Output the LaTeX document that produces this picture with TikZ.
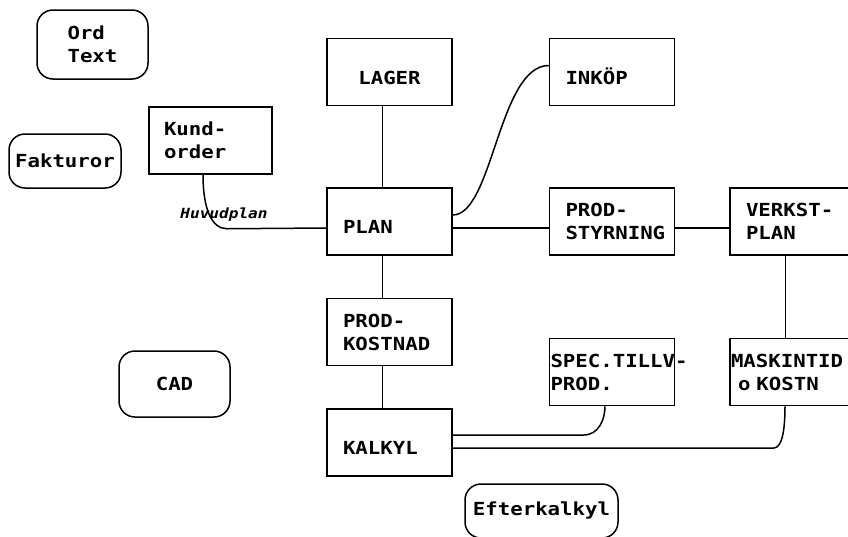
\documentclass[tikz,border=0pt]{standalone}
\usepackage{fontspec}
\newfontfamily\plotfont[FakeStretch=1.15]{DejaVu Sans Mono}
\usetikzlibrary{positioning}
\hfuzz=40pt
\tikzset{
  ruta/.style={draw,line width=1.5pt,minimum height=67pt,text width=93pt,inner xsep=16pt,inner ysep=0pt,
               align=left,font=\plotfont\bfseries\fontsize{18}{23}\selectfont},
  enrad/.style={ruta,text height=24pt,text depth=0pt},
  trang/.style={ruta,text width=123pt,inner xsep=1pt},
  rund/.style={draw,line width=1.5pt,rounded corners=16pt,inner sep=0pt,align=left,
               font=\plotfont\bfseries\fontsize{18}{23}\selectfont},
  linje/.style={line width=1.5pt},
  etikett/.style={font=\plotfont\bfseries\itshape\fontsize{14}{14}\selectfont,inner sep=0pt},
}
\begin{document}
\begin{tikzpicture}[x=1pt,y=-1pt]
  \useasboundingbox (0,0) rectangle (848,536);
  \clip (0,0) rectangle (848,536);
  % mittkolumnen
  \node[enrad] (plan) at (389.5,221.5) {PLAN};
  \node[enrad,align=center,above=81pt of plan] (lager) {LAGER};
  \node[ruta,below=42pt of plan] (prodkost) {PROD-\\KOSTNAD};
  \node[enrad,below=42pt of prodkost] (kalkyl) {KALKYL};
  % till hoger
  \node[ruta,right=96pt of plan] (prodstyr) {PROD-\\STYRNING};
  \node[ruta,right=54pt of prodstyr] (verkst) {VERKST-\\PLAN};
  \node[enrad,above=81pt of prodstyr] (inkop) {INKÖP};
  \node[trang,below=82pt of prodstyr] (spec) {\mbox{SPEC.TILLV-}\\PROD.};
  \node[trang,below=82pt of verkst] (mask) {MASKINTID\\\hspace*{7pt}o KOSTN};
  % till vanster
  \node[ruta,inner xsep=15pt] (kund) at (210.5,140.5) {Kund-\\order};
  \node[rund,minimum width=111pt,minimum height=69pt] (ordtext) at (92.5,44.5) {Ord\\Text};
  \node[rund,minimum width=112pt,minimum height=54pt] (faktura) at (65,161) {Fakturor};
  \node[rund,minimum width=111pt,minimum height=66pt] (cad) at (174.5,384) {CAD};
  \node[rund,minimum width=153pt,minimum height=54pt] (efter) at (541.5,511) {Efterkalkyl};
  \node[etikett] (huvudplan) at (224,215) {Huvudplan};

  \draw[linje] ([xshift=-7pt]lager.south) -- ([xshift=-7pt]plan.north);
  \draw[linje] ([xshift=-7pt]plan.south) -- ([xshift=-7pt]prodkost.north);
  \draw[linje] ([xshift=-7pt]prodkost.south) -- ([xshift=-7pt]kalkyl.north);
  \draw[linje] ([yshift=-6.5pt]plan.east) -- ([yshift=-6.5pt]prodstyr.west);
  \draw[linje] ([yshift=-6.5pt]prodstyr.east) -- ([yshift=-6.5pt]verkst.west);
  \draw[linje] ([xshift=-7pt]verkst.south) -- ([xshift=-7pt]mask.north);
  \draw[linje] ([yshift=6.5pt]plan.east) .. controls +(40,0) and +(-50,0) .. ([yshift=6.5pt]inkop.west);
  \draw[linje] ([xshift=-7.5pt]kund.south) .. controls +(0,35) and +(-15,0) .. ++(24,54)
    -- ([yshift=-6.5pt]plan.west);
  \draw[linje] ([yshift=7.5pt]kalkyl.east) -- ++(131,0) .. controls +(15,0) and +(0,13) .. ([xshift=-7pt]spec.south);
  \draw[linje] ([yshift=-5.5pt]kalkyl.east) -- ++(321,0) .. controls +(8,0) and +(0,25) .. ([xshift=-7.5pt]mask.south);
\end{tikzpicture}
\end{document}
